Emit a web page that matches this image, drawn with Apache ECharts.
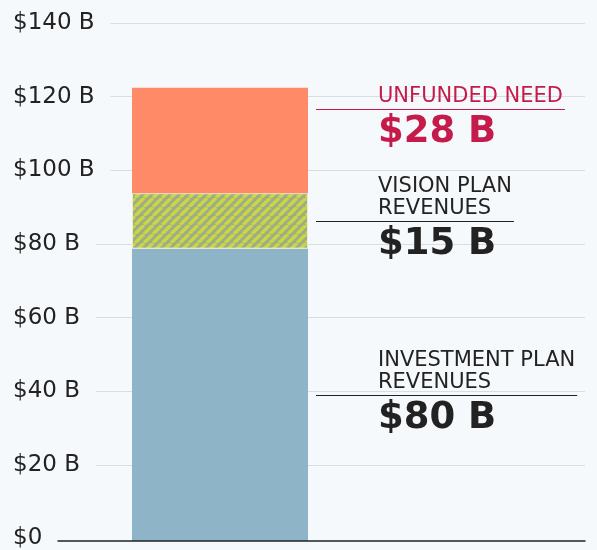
<!DOCTYPE html>
<html>
<head>
<meta charset="utf-8">
<script src="https://cdn.jsdelivr.net/npm/echarts@6/dist/echarts.min.js"></script>
<style>
  html, body { margin: 0; padding: 0; background: #f6f9fc; }
  #container { width: 597px; height: 550px; }
</style>
</head>
<body>
<div id="container"></div>
<script>
// chart values
let categories = ['Total'];
let segmentNames = ['Investment plan revenues', 'Vision plan revenues', 'Unfunded need'];
let segmentValues = [79, 15, 28.5];
let labelHeads = ['INVESTMENT PLAN\nREVENUES', 'VISION PLAN\nREVENUES', 'UNFUNDED NEED'];
let labelAmounts = ['$80 B', '$15 B', '$28 B'];
let yTicks = [0, 20, 40, 60, 80, 100, 120, 140];

let bg = '#f6f9fc';
let dark = '#222222';
let red = '#c51b4a';
let headColors = [dark, dark, red];
let headFont = '21px "DejaVu Sans"';
let amountFont = 'bold 37px "DejaVu Sans"';

// hatch pattern for the vision plan block
function makeHatch() {
    let s = 9;
    let c = document.createElement('canvas');
    c.width = s; c.height = s;
    let ctx = c.getContext('2d');
    ctx.fillStyle = '#9bae87';
    ctx.fillRect(0, 0, s, s);
    ctx.strokeStyle = '#cdd546';
    ctx.lineWidth = 3.4;
    [-s, 0, s].forEach((k) => {
        ctx.beginPath();
        ctx.moveTo(k, s);
        ctx.lineTo(k + s, 0);
        ctx.stroke();
    });
    return c;
}

let segColors = ['#8eb4c7', {image: makeHatch(), repeat: 'repeat'}, '#fe8a68'];

let dom = document.getElementById('container');
let chart = echarts.init(dom, null, {renderer: 'canvas'});

let gridLineColors = yTicks.map((v) => v === 0 ? 'rgba(0,0,0,0)' : '#d8dde1');

chart.setOption({
    backgroundColor: bg,
    animation: false,
    grid: [
        {left: 13, right: 12, top: 23, bottom: 9},
        {left: 132, width: 176, top: 23, bottom: 9},
        {left: 58, right: 12, top: 23, bottom: 9}
    ],
    xAxis: [
        {gridIndex: 0, type: 'category', data: categories, show: false},
        {gridIndex: 1, type: 'category', data: categories, show: false},
        {
            gridIndex: 2, type: 'category', data: categories, z: 10,
            axisLine: {show: true, lineStyle: {color: dark, width: 1.5}},
            axisTick: {show: false},
            axisLabel: {show: false}
        }
    ],
    yAxis: [{
        gridIndex: 0,
        type: 'value',
        min: yTicks[0],
        max: yTicks[yTicks.length - 1],
        interval: 20,
        axisLine: {show: false},
        axisTick: {show: false},
        axisLabel: {
            inside: true,
            margin: 0,
            align: 'left',
            fontFamily: 'DejaVu Sans',
            fontSize: 23,
            color: dark,
            backgroundColor: bg,
            padding: [0, 16, 0, 0],
            formatter: (v) => v === 0 ? '$0' : '$' + v + ' B'
        },
        splitLine: {show: true, lineStyle: {color: gridLineColors, width: 1}}
    }, {
        gridIndex: 1,
        type: 'value',
        min: yTicks[0],
        max: yTicks[yTicks.length - 1],
        show: false
    }, {
        gridIndex: 2,
        type: 'value',
        min: yTicks[0],
        max: yTicks[yTicks.length - 1],
        show: false
    }],
    series: segmentValues.map((v, i) => ({
        name: segmentNames[i],
        type: 'bar',
        stack: 'total',
        xAxisIndex: 1,
        yAxisIndex: 1,
        barWidth: '100%',
        data: [v],
        itemStyle: {
            color: segColors[i],
            borderColor: i === 1 ? '#eeeccd' : 'rgba(0,0,0,0)',
            borderWidth: i === 1 ? 1 : 0
        }
    }))
});

// annotations beside the bar
let measure = document.createElement('canvas').getContext('2d');
function textWidth(str, font) {
    measure.font = font;
    return Math.max(...str.split('\n').map((l) => measure.measureText(l).width));
}

let barRight = 308;
let lineX = barRight + 8;
let textX = lineX + 62;
let graphics = [];
let prevY = null;
let base = 0;
segmentValues.forEach((v, i) => {
    let mid = base + v / 2;
    base += v;
    let y = chart.convertToPixel({yAxisIndex: 1}, mid);
    if (prevY !== null) y = Math.min(y, prevY - 112);
    prevY = y;
    let ly = Math.round(y) + 0.5;
    let w = textWidth(labelHeads[i], headFont);
    graphics.push({
        type: 'line',
        shape: {x1: lineX, y1: ly, x2: textX + w + 2, y2: ly},
        style: {stroke: headColors[i], lineWidth: 1}
    });
    graphics.push({
        type: 'text',
        x: textX,
        y: y - 1,
        style: {
            text: labelHeads[i],
            font: headFont,
            fill: headColors[i],
            lineHeight: 22,
            verticalAlign: 'bottom'
        }
    });
    graphics.push({
        type: 'text',
        x: textX,
        y: y + 5,
        style: {
            text: labelAmounts[i],
            font: amountFont,
            fill: headColors[i],
            verticalAlign: 'top'
        }
    });
});
chart.setOption({graphic: graphics});
</script>
</body>
</html>
